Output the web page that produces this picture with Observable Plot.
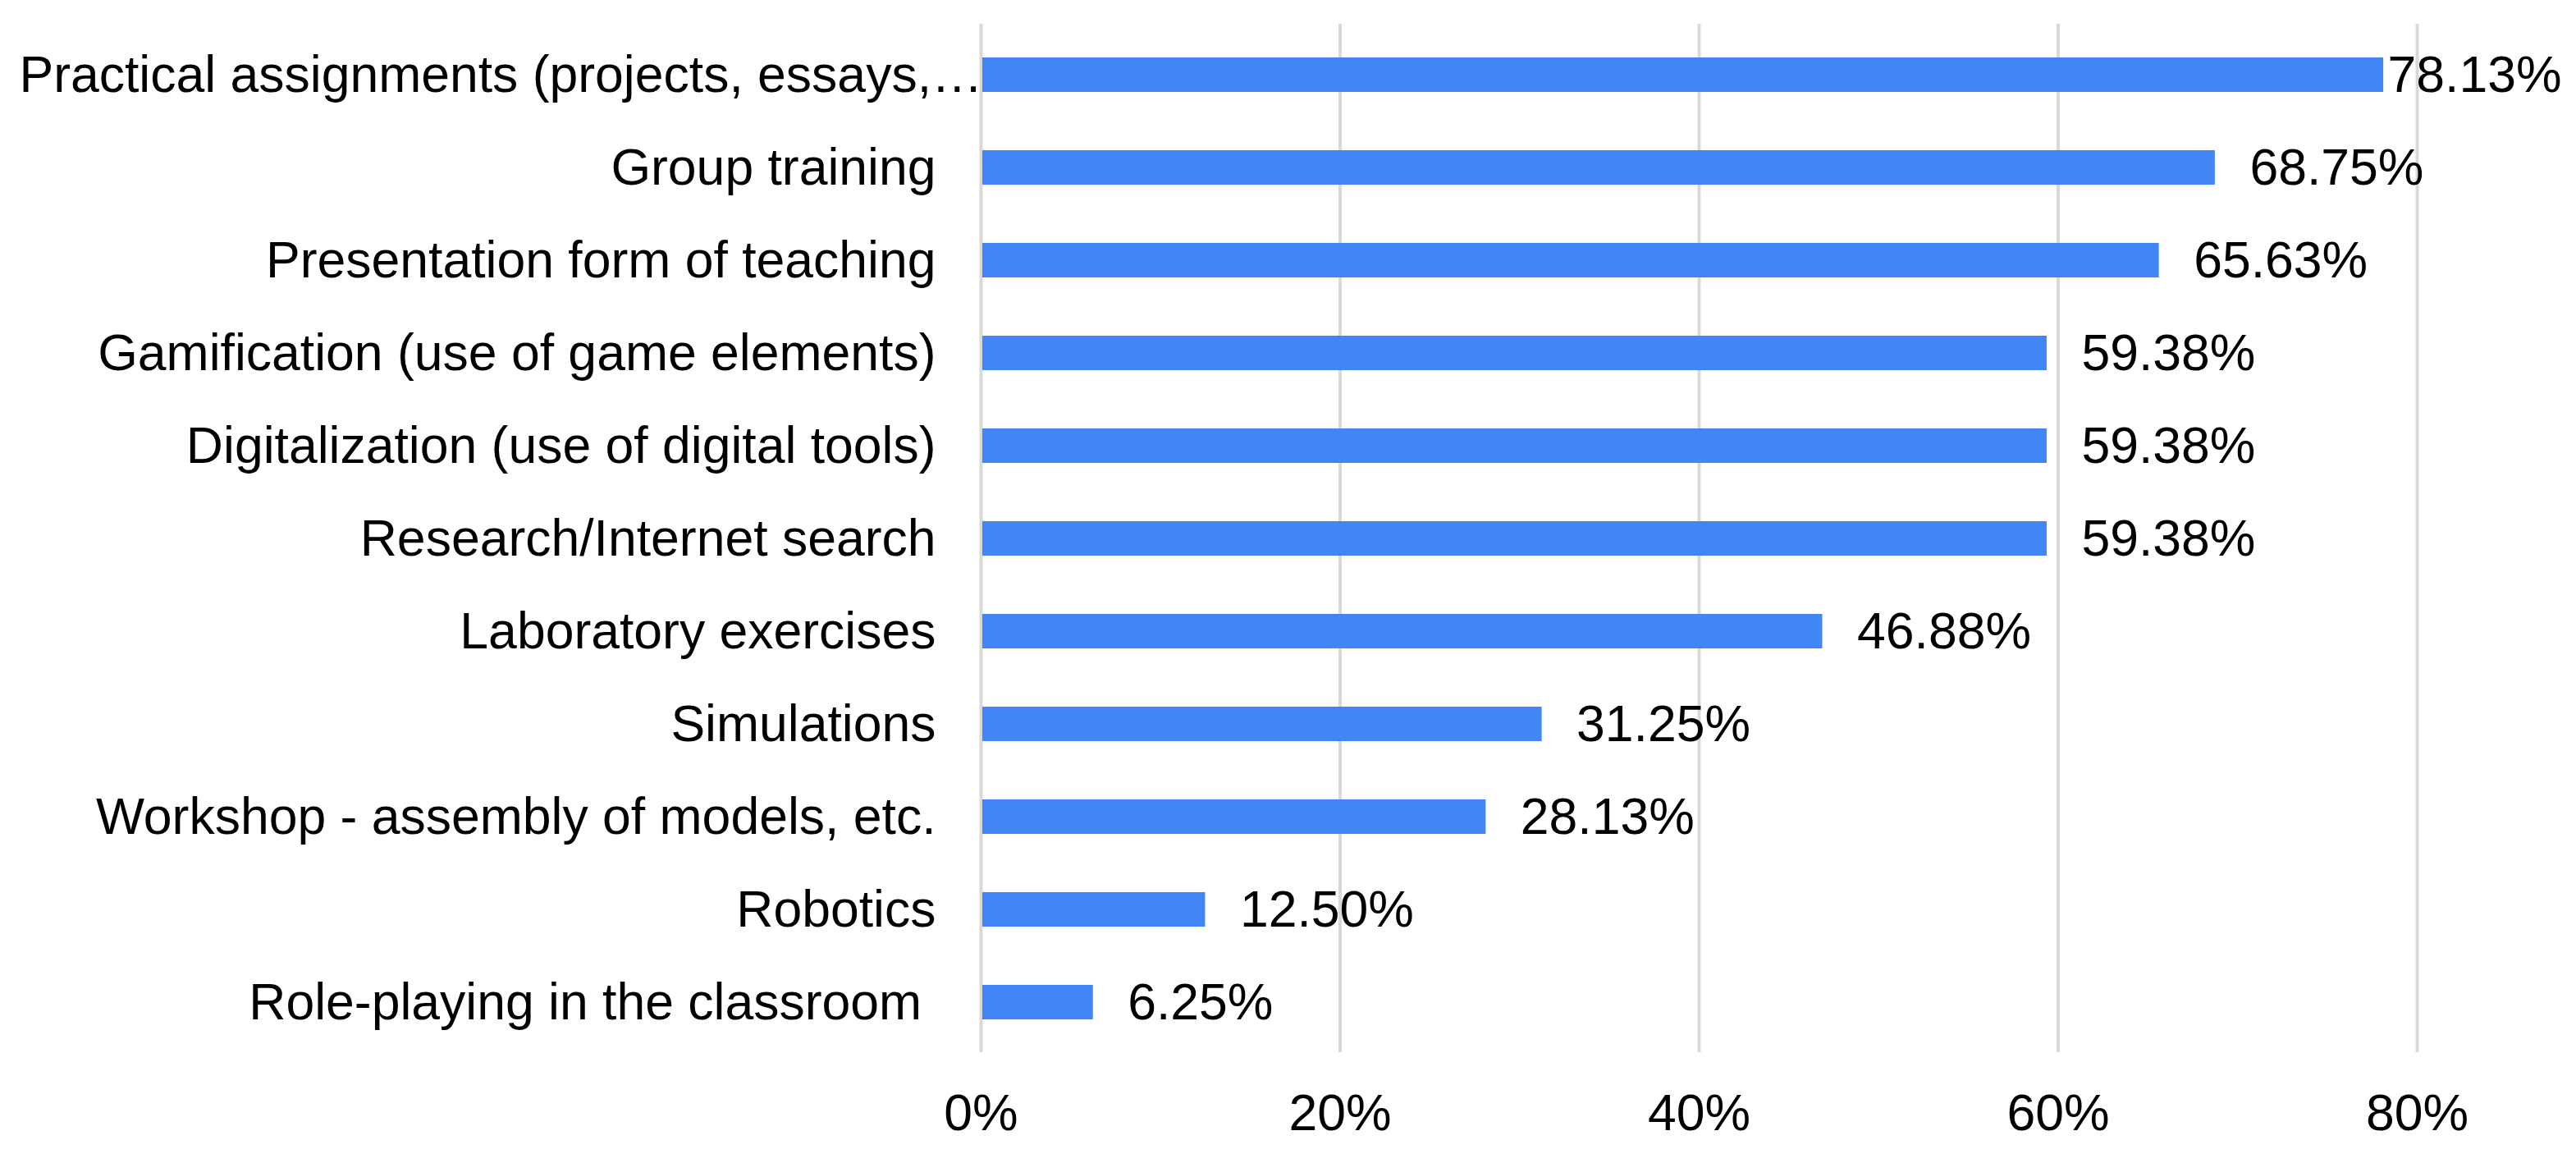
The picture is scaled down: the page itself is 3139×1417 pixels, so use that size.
<!DOCTYPE html>
<html>
<head>
<meta charset="utf-8">
<script src="https://cdn.jsdelivr.net/npm/d3@7"></script>
<script src="https://cdn.jsdelivr.net/npm/@observablehq/plot@0.6"></script>
<style>
  html, body { margin: 0; padding: 0; background: #ffffff; }
  #chart svg { display: block; }
</style>
</head>
<body>
<div id="chart"></div>
<script>
const categories = [
  "Practical assignments (projects, essays,\u2026",
  "Group training",
  "Presentation form of teaching",
  "Gamification (use of game elements)",
  "Digitalization (use of digital tools)",
  "Research/Internet search",
  "Laboratory exercises",
  "Simulations",
  "Workshop - assembly of models, etc.",
  "Robotics",
  "Role-playing in the classroom\u00a0"
];
const values = [78.13, 68.75, 65.63, 59.38, 59.38, 59.38, 46.88, 31.25, 28.13, 12.50, 6.25];
const xTicks = [0, 20, 40, 60, 80];

const data = categories.map((c, i) => ({category: c, value: values[i], first: i === 0}));

const fontFamily = '"Liberation Sans", Arial, Helvetica, sans-serif';
const fs = 62.5;

const chart = Plot.plot({
  width: 3139,
  height: 1417,
  marginLeft: 1195,
  marginRight: 194,
  marginTop: 29,
  marginBottom: 135,
  style: {background: "#ffffff", fontFamily, color: "#000000"},
  x: {domain: [0, 80], axis: null, label: null},
  y: {domain: categories, axis: null, label: null, paddingInner: 0.63, paddingOuter: 0.315},
  marks: [
    Plot.gridX(xTicks, {stroke: "#d9d9d9", strokeOpacity: 1, strokeWidth: 4}),
    Plot.barX(data, {x: "value", y: "category", fill: "#4285f4", insetLeft: 2}),
    Plot.axisX({ticks: xTicks, tickSize: 0, tickPadding: 50, fontSize: fs, label: null, tickFormat: d => d + "%", fill: "#000000"}),
    Plot.text(data.filter(d => !d.first), {x: 0, y: "category", text: "category", textAnchor: "end", dx: -55, fontSize: fs, fill: "#000000"}),
    Plot.text(data.filter(d => d.first), {x: 0, y: "category", text: "category", textAnchor: "end", dx: 2, fontSize: fs, fill: "#000000"}),
    Plot.text(data.filter(d => !d.first), {x: "value", y: "category", text: d => d.value.toFixed(2) + "%", textAnchor: "start", dx: 42, fontSize: fs, fill: "#000000"}),
    Plot.text(data.filter(d => d.first), {x: "value", y: "category", text: d => d.value.toFixed(2) + "%", textAnchor: "start", dx: 5, fontSize: fs, fill: "#000000"})
  ]
});
document.getElementById("chart").appendChild(chart);
</script>
</body>
</html>
